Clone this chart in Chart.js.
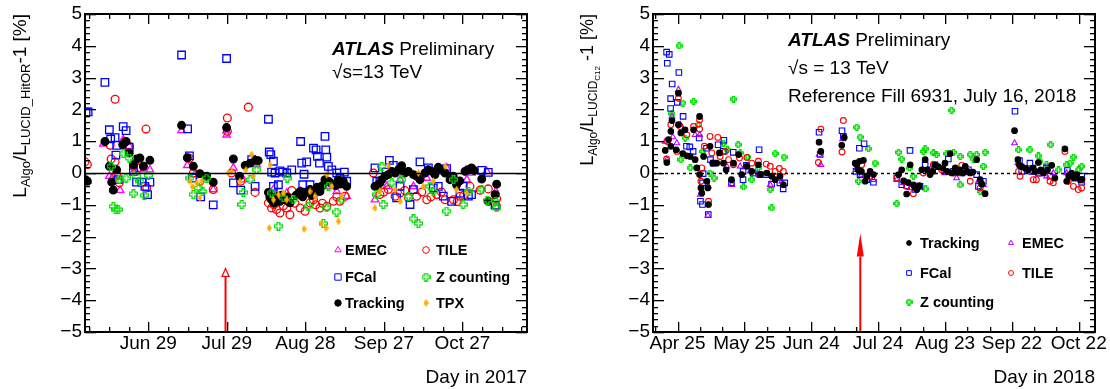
<!DOCTYPE html>
<html>
<head>
<meta charset="utf-8">
<script src="https://cdn.jsdelivr.net/npm/chart.js@4.4.0/dist/chart.umd.min.js"></script>
<style>
  body { margin: 0; background: #fff; width: 1110px; height: 389px; overflow: hidden; position: relative; }
  .panel { position: absolute; top: 0; width: 555px; height: 389px; }
</style>
</head>
<body>
<div class="panel" style="left:0"><canvas id="c2017" width="555" height="389"></canvas></div>
<div class="panel" style="left:555px"><canvas id="c2018" width="555" height="389"></canvas></div>
<script>
// ---- data: [day of year, L_Algo/L_LUCID - 1 in %] ----
const yTickVals = [-5, -4, -3, -2, -1, 0, 1, 2, 3, 4, 5];

const xTickDays2017 = [180, 210, 240, 270, 300];
const xLabels2017 = ['Jun 29', 'Jul 29', 'Aug 28', 'Sep 27', 'Oct 27'];
const xTickDays2018 = [115, 145, 175, 205, 235, 265, 295];
const xLabels2018 = ['Apr 25', 'May 25', 'Jun 24', 'Jul 24', 'Aug 23', 'Sep 22', 'Oct 22'];

// reference fill arrows: [day, arrow tip value]
const refArrow2017 = [209.5, -3.0];
const refArrow2018 = [197, -1.9];

const emec2017 = [[156.7,-0.26],[162.8,0.91],[165.1,-0.10],[166.6,-0.10],[169.2,-0.54],[170.4,1.05],[172.7,0.84],[174.9,0.10],[178.1,0.10],[180.6,0.10],
  [192.7,1.34],[194.9,0.24],[197.8,-0.05],[204.8,-0.52],[209.9,1.20],[209.9,1.33],[212.5,0.16],[216.3,-0.21],[221.4,0.26],
  [227.8,-0.52],[230.3,-0.73],[232.9,-0.63],[238.0,-0.58],[243.1,-0.63],[248.2,-0.42],[252.0,-0.58],[255.8,-0.73],
  [266.6,-0.84],[271.1,-0.42],[276.2,-0.21],[281.3,-0.42],[286.4,-0.16],[291.5,0.05],[294.0,0.16],[301.7,-0.21],[303.5,0],[309.3,0.05],[312.8,-0.58]];
const tile2017 = [[155.8,0.35],[156.7,0.27],[167.3,2.32],[165.4,0.87],[165.8,0.44],[167.3,0.35],[167.9,-0.05],[168.9,-0.31],[171.1,0.99],[172.7,0.84],
  [174.3,0.21],[176.2,0.16],[178.1,0.21],[179.4,-0.47],[179.1,1.38],[195.7,0.46],[197.2,0],[199.7,-0.26],[204.8,-0.52],[210.2,1.73],[210.2,1.31],
  [211.8,0],[215.3,-0.26],[218.2,2.07],[220.8,-0.61],[225.9,-0.94],[226.5,-0.78],[227.1,-1.10],[228.0,-1.00],[228.4,-0.84],[229.0,-1.15],[230.3,-1.26],
  [231.6,-1.03],[232.9,-1.10],[234.1,-1.31],[234.8,-0.55],[236.0,-0.95],[238.0,-1.10],[239.9,-1.20],[241.8,-0.94],[243.1,-0.84],[244.0,-1.00],
  [245.6,-1.10],[246.5,-0.95],[248.2,-1.05],[250.7,-0.89],[252.0,-0.75],[253.2,-0.89],[255.2,-0.73],
  [266.0,0],[267.3,-0.42],[268.5,-0.68],[270.0,-0.60],[271.7,-0.52],[274.3,-0.73],[276.2,-0.63],[278.0,-0.55],[279.4,-0.78],[282.5,-0.73],
  [284.5,-0.60],[286.4,-0.84],[288.0,-0.75],[290.2,-0.68],[292.0,-0.60],[293.4,-0.84],[296.6,-0.84],[298.0,-0.90],[299.1,-0.73],[300.5,-0.70],
  [302.9,-0.42],[306.8,-0.54],[309.9,-0.50],[313.1,-0.81],[313.1,-1.05]];
const fcal2017 = [[156.2,1.92],[157.0,1.92],[163.4,2.85],[165.1,1.36],[165.6,1.07],[167.3,1.11],[167.9,0.87],[167.6,0.56],[170.4,1.46],[171.5,1.33],
  [172.7,0.81],[168.5,-0.21],[174.3,0.05],[175.5,-0.29],[177.5,-0.29],[178.7,-0.42],[179.7,-0.68],[180.6,-0.29],[192.7,3.71],[195.0,1.39],
  [195.7,0.54],[196.9,-0.16],[200.0,-0.75],[204.8,-1.00],[209.9,3.60],[212.5,-0.31],[215.3,-0.54],[219.5,0.42],[220.8,-0.42],
  [225.9,1.69],[226.2,0.66],[226.8,0.58],[227.8,0.37],[227.1,0.03],[228.4,0],[230.3,0.07],[231.3,0.03],[232.9,0],[234.8,0.10],[227.8,-0.42],[229.7,-0.37],
  [238.2,0.99],[238.6,0.31],[239.5,-0.04],[239.0,-0.37],[240.5,0.35],[241.8,-0.37],[243.1,0.78],[244.1,0.73],[244.6,0.52],[245.4,0.31],
  [247.5,1.15],[247.8,0.73],[248.2,0.50],[248.8,0.21],[250.1,0.10],[252.0,0],[253.2,-0.16],[254.9,0.03],[255.8,-0.26],
  [266.6,0.16],[267.3,-0.26],[268.5,-0.26],[270.8,0.03],[272.1,0.40],[273.6,0.24],[274.9,-0.78],[276.2,-0.42],[280.0,-0.99],[281.3,-0.52],
  [283.8,0.35],[287.0,0.16],[288.9,-0.47],[290.8,-0.42],[292.7,-0.73],[294.0,0.14],[295.9,-0.89],[299.1,-0.63],[300.3,-0.42],[302.3,-0.73],
  [303.5,-0.68],[307.4,0.08],[309.9,0.02],[312.5,-1.01]];
const zcount2017 = [[165.8,0.21],[166.6,-1.05],[167.6,-1.15],[168.5,-1.15],[168.9,-0.21],[170.4,0.61],[171.5,-0.16],[172.7,0.47],[174.3,-0.65],
  [175.5,-0.10],[176.8,-0.26],[178.5,-0.70],[180.0,-0.07],[195.9,-0.16],[197.2,-0.68],[199.1,-0.47],[200.8,-0.58],[202.3,-0.16],
  [215.7,-0.99],[216.3,-0.61],[218.9,-0.21],[221.4,0.10],[227.1,-0.63],[229.7,-1.67],[231.6,-0.78],[233.1,-0.16],[235.4,-0.84],
  [241.1,-1.05],[246.9,-1.59],[248.8,-0.42],[248.2,-1.10],[252.0,-1.23],[253.9,-0.84],[267.3,-0.68],[269.2,0.21],[269.8,-0.99],
  [273.0,-0.31],[276.8,-0.21],[279.4,-0.73],[281.3,-1.44],[283.2,-1.59],[287.6,-0.42],[288.9,-0.58],[294.0,-1.20],[296.6,-0.21],
  [300.3,-0.99],[302.3,-0.58],[307.4,-0.52],[309.6,-0.86],[313.1,-1.10],[312.8,-0.89]];
const track2017 = [[156.0,-0.21],[156.7,-0.26],[163.4,0.99],[165.1,0.21],[166.0,-0.29],[166.6,-0.54],[167.9,0.10],[170.2,0.89],[171.5,0.99],
  [172.7,0.63],[174.3,0.26],[175.5,0.44],[176.8,0.47],[178.1,0.21],[180.6,0.40],[192.7,1.50],[194.9,0.48],[197.2,0.21],[199.7,-0.02],
  [202.3,-0.10],[204.8,-0.29],[209.9,1.43],[212.5,0.44],[214.8,-0.10],[217.0,0.24],[218.9,0.31],[220.8,0.40],[222.0,0.39],
  [225.9,-0.61],[226.5,-0.75],[227.1,-0.84],[228.0,-0.95],[229.0,-0.73],[230.3,-0.89],[231.0,-0.70],[232.2,-0.84],[233.0,-0.75],[234.1,-0.94],
  [236.5,-0.70],[238.0,-0.58],[239.0,-0.75],[239.9,-0.63],[241.8,-0.52],[242.5,-0.70],[243.7,-0.63],[244.5,-0.45],[245.6,-0.58],[246.5,-0.40],
  [247.5,-0.21],[248.8,-0.26],[249.5,-0.30],[250.7,-0.37],[251.5,-0.40],[252.6,-0.21],[253.5,-0.35],[254.5,-0.26],[255.8,-0.42],
  [266.6,-0.42],[268.0,-0.35],[269.2,-0.21],[270.5,-0.10],[271.7,-0.05],[273.0,0.05],[274.3,0],[275.5,0.10],[276.8,0.23],[278.0,0],
  [279.4,0.05],[281.3,-0.05],[282.5,-0.10],[283.8,-0.21],[285.7,0],[287.0,0.10],[288.3,0.05],[289.5,-0.05],[290.8,0.18],[292.0,0.10],
  [293.4,0],[295.3,-0.21],[296.5,-0.10],[297.8,-0.37],[299.0,-0.25],[301.0,0.05],[302.0,0.10],[303.5,0.16],[304.5,0.08],[307.4,-0.19],
  [309.9,-0.89],[313.1,-0.35],[312.5,-0.68]];
const tpx2017 = [[195.9,-0.26],[196.9,-0.44],[199.7,-0.78],[198.5,-0.31],[200.4,-0.26],[210.6,0],[211.8,0.05],[215.0,-0.26],[217.3,0.10],
  [219.5,0.58],[220.1,-0.10],[226.5,0.26],[226.2,-1.73],[227.8,-0.84],[229.7,-0.68],[231.6,-0.63],[232.9,-0.84],[239.5,-1.76],[241.8,-0.58],
  [243.7,-0.73],[246.2,-1.59],[247.9,-1.73],[248.2,-0.05],[250.1,-0.42],[252.6,-1.52],[253.9,-0.73],[266.6,-1.10],[268.5,-0.58],
  [271.7,0.23],[274.3,-0.52],[276.2,-0.89],[283.2,0],[285.1,-0.42],[288.9,-0.26],[293.4,0.21],[297.8,-0.52],[301.7,-0.63]];

const track2018 = [[109.5,0.71],[110.2,0.33],[111.0,1.05],[112.0,1.31],[112.0,0.84],[112.5,1.65],[114.4,0.73],[115.4,1.52],[115.4,2.51],
  [116.5,1.26],[117.4,0.61],[118.4,1.36],[119.2,0.54],[120.7,0.52],[122.2,1.36],[122.9,0.42],[123.7,0.16],[124.9,1.78],[124.9,-0.05],
  [125.5,-0.47],[125.9,-0.63],[126.7,0.52],[128.2,-0.26],[128.6,-0.47],[128.9,-0.99],[129.6,0.84],[130.8,0.31],[132.6,0.31],[133.8,0.63],
  [135.6,0.31],[136.8,0.10],[139.2,-0.21],[140.1,0.31],[142.4,0.58],[143.8,-0.05],[146.1,0.21],[148.3,0.05],[151.3,0.26],[152.1,-0.05],
  [155.1,0],[157.3,-0.10],[158.8,-0.21],[161.0,-0.10],[162.5,-0.37],[178.5,0.97],[179.3,0.68],[188.7,0.87],[189.8,1.12],
  [194.7,0.31],[195.4,0.26],[196.0,0.10],[196.6,0.37],[197.5,0.05],[198.4,0.40],[199.2,-0.26],[200.0,-0.10],[201.4,0.05],[202.9,-0.05],
  [214.2,-0.05],[215.6,0.10],[216.5,-0.25],[217.8,-0.66],[218.5,-0.30],[219.4,0.26],[220.8,-0.37],[221.5,-0.45],[222.4,-0.52],[223.5,-0.40],
  [224.6,0.10],[226.1,0.42],[227.0,0.10],[228.3,-0.05],[229.5,0.05],[230.5,0.26],[232.0,0.20],[234.0,0.15],[235.0,0.31],[236.0,0.05],
  [237.3,0.61],[238.0,0],[239.6,0.16],[240.5,0.02],[241.8,0.10],[243.0,0],[244.1,0.21],[245.0,0.05],[246.3,0],[247.5,0.03],[249.2,0.42],
  [250.8,-0.21],[251.5,-0.35],[253.0,-0.65],[266.2,1.33],[267.7,0.42],[268.4,0.24],[269.5,0.20],[271.0,0.15],[272.4,0.10],[274.6,0.16],
  [275.5,0.05],[276.9,0.33],[278.0,0.10],[279.2,0],[281.0,0.10],[282.9,0.24],[284.3,-0.16],[288.8,0.76],[289.6,-0.26],[290.5,-0.10],
  [291.8,0],[293.0,-0.15],[294.1,-0.05],[295.6,-0.21],[296.5,-0.20]];
const emec2018 = [[109.5,0.99],[110.2,0.42],[112.5,1.78],[112.9,1.13],[114.7,0.94],[115.4,2.62],[116.2,1.52],[122.9,1.20],[124.9,1.20],
  [125.2,-0.68],[128.6,-1.34],[128.9,-0.42],[137.1,0.21],[139.4,-0.37],[143.1,0.21],[147.6,0.05],[151.3,-0.05],[156.6,-0.37],[161.8,-0.26],
  [178.5,0.58],[179.3,0.26],[189.1,1.07],[195.1,0.10],[197.6,-0.05],[202.9,-0.21],[213.4,-0.21],[216.4,-0.31],[219.4,-0.47],[222.4,-0.42],
  [225.3,0.10],[229.8,0.16],[235.0,0],[240.2,-0.16],[245.5,0],[250.0,-0.26],[252.2,-0.37],[266.2,0.94],[267.7,0.31],[272.4,0.05],
  [276.9,-0.05],[280.6,-0.10],[283.6,0],[289.6,0],[292.6,-0.16],[296.3,-0.26]];
const fcal2018 = [[110.1,3.80],[111.3,3.73],[110.4,3.45],[115.6,3.16],[112.6,2.80],[111.9,2.34],[111.9,2.03],[114.9,2.22],[117.5,1.78],
  [119.0,0.84],[120.5,0.82],[122.0,0.68],[124.7,1.10],[128.0,0.78],[129.8,0.42],[131.0,0.31],[126.5,-0.02],[126.2,-0.31],[125.3,-0.89],
  [126.2,-0.99],[128.8,-1.31],[133.2,0.89],[135.8,1.03],[135.5,0.68],[140.0,0.65],[144.4,0.05],[145.9,0.24],[151.6,0.73],[148.9,0],
  [139.2,-0.31],[144.4,-0.21],[151.9,-0.05],[154.9,-0.05],[157.2,-0.35],[160.9,-0.31],[162.4,-0.50],[163.1,-0.31],
  [178.5,1.28],[179.0,0.58],[188.8,1.33],[189.4,1.15],[196.6,0.78],[198.7,0.92],[195.1,0.05],[196.9,-0.05],[199.9,-0.21],[202.9,-0.29],
  [219.3,0.71],[213.4,-0.16],[215.6,-0.37],[217.8,-0.40],[221.6,-0.52],[223.8,-0.42],[226.1,0.26],[228.3,0.10],[230.5,0.26],[236.5,0.44],
  [238.8,0.05],[242.5,0],[245.5,0.10],[249.2,-0.05],[250.0,-0.42],[252.2,-0.26],[266.4,1.94],[268.4,0.39],[269.4,0.05],[273.1,0.31],
  [273.9,0.05],[276.9,0],[280.6,0.16],[282.1,-0.10],[289.9,0.08],[290.8,-0.10],[293.3,-0.16],[296.3,-0.10],[296.3,-0.29]];
const tile2018 = [[110.5,0.99],[110.1,0.44],[112.0,1.52],[114.7,0.68],[115.4,2.35],[116.2,1.46],[119.2,1.20],[122.2,1.46],[124.9,1.67],
  [124.9,1.38],[125.5,-0.26],[125.9,0.16],[127.0,0.84],[128.9,-0.89],[129.6,1.15],[130.4,0.63],[133.1,1.12],[134.1,0.52],[136.4,0.68],
  [137.9,0.42],[140.1,0.26],[142.8,0.47],[146.1,0.49],[148.3,0.31],[151.3,0.37],[154.8,0.28],[156.6,0.21],[158.8,0.05],[160.7,0.14],
  [162.5,0.05],[178.2,0.33],[179.3,1.38],[188.8,0.66],[189.4,1.65],[197.6,0.26],[201.4,-0.10],[213.4,-0.16],[217.8,-0.42],[220.8,-0.65],
  [225.3,0],[229.8,0.26],[233.5,0.10],[238.8,0],[242.5,0.24],[246.3,-0.26],[250.8,-0.47],[268.0,0.05],[268.7,-0.10],[274.6,-0.21],
  [276.0,-0.21],[282.1,-0.26],[283.6,-0.31],[288.8,0.68],[290.3,-0.26],[292.6,-0.42],[294.8,-0.52],[296.3,-0.47]];
const zcount2018 = [[115.7,4.00],[112.5,1.86],[117.4,2.20],[122.2,2.25],[140.1,2.32],[116.5,0.42],[118.4,1.10],[120.7,0.16],[124.4,1.52],
  [126.4,0.68],[129.6,0],[131.4,-0.16],[135.6,0.94],[137.4,0.73],[142.2,0.89],[143.1,0.63],[144.6,-0.44],[146.4,0.50],[148.3,-0.21],
  [151.3,0.16],[156.6,-0.52],[157.3,-1.10],[158.8,0.61],[162.8,0.50],[195.4,1.44],[196.9,1.13],[200.7,0.76],[203.6,0.31],[196.2,-0.26],
  [213.4,-0.96],[214.2,0.65],[215.6,0.44],[219.1,0.16],[220.8,-0.10],[225.3,0.68],[226.1,0.76],[226.3,-0.50],[229.8,0.63],[231.2,0.58],
  [235.8,0.61],[238.0,1.97],[238.8,0.65],[241.8,-0.37],[241.8,0.52],[246.3,0.58],[247.7,0.44],[249.2,0.58],[253.0,0.65],[250.8,-0.58],
  [252.2,0.21],[268.0,0.73],[273.1,0.73],[276.9,0.54],[277.6,0.37],[280.6,0.26],[282.4,0.89],[285.9,0.10],[289.6,0.26],[291.1,0.31],
  [292.6,0.50],[294.8,0.10],[296.3,0.21]];

// ---- styling ----
const FONT = '"Liberation Sans", Arial, Helvetica, sans-serif';
Chart.defaults.font.family = FONT;
Chart.defaults.color = '#000';

function openCross(size, color) {
  const c = document.createElement('canvas');
  c.width = c.height = size;
  const g = c.getContext('2d');
  const s = size - 1, a = s * 0.33, b = s * 0.67, o = 0.5;
  const pts = [[a,0],[b,0],[b,a],[s,a],[s,b],[b,b],[b,s],[a,s],[a,b],[0,b],[0,a],[a,a]];
  g.beginPath();
  pts.forEach(([x, y], i) => i ? g.lineTo(x + o, y + o) : g.moveTo(x + o, y + o));
  g.closePath();
  g.strokeStyle = color;
  g.lineWidth = 1.3;
  g.stroke();
  return c;
}

function smallDiamond(w, h, color) {
  const c = document.createElement('canvas');
  c.width = w; c.height = h;
  const g = c.getContext('2d');
  g.beginPath();
  g.moveTo(w / 2, 0); g.lineTo(w, h / 2); g.lineTo(w / 2, h); g.lineTo(0, h / 2);
  g.closePath();
  g.fillStyle = color;
  g.fill();
  return c;
}

const GREEN = '#00dd00';
const series2017 = [
  { label: 'EMEC', data: emec2017, color: '#ff00ff', style: 'triangle', r: 4.3, fill: false, order: 5 },
  { label: 'TILE', data: tile2017, color: '#ff0000', style: 'circle', r: 3.9, fill: false, order: 4 },
  { label: 'FCal', data: fcal2017, color: '#0000ff', style: 'rect', r: 5.3, fill: false, order: 3 },
  { label: 'Z counting', data: zcount2017, color: GREEN, style: openCross(9, GREEN), r: 4, fill: false, order: 1 },
  { label: 'Tracking', data: track2017, color: '#000000', style: 'circle', r: 3.8, fill: true, order: 2 },
  { label: 'TPX', data: tpx2017, color: '#ffaa00', style: smallDiamond(5, 8, '#ffaa00'), r: 3, fill: true, order: 0 }
];
const series2018 = [
  { label: 'Tracking', data: track2018, color: '#000000', style: 'circle', r: 2.8, fill: true, order: 0 },
  { label: 'EMEC', data: emec2018, color: '#b000ff', style: 'triangle', r: 3.3, fill: false, order: 2 },
  { label: 'FCal', data: fcal2018, color: '#0000ff', style: 'rect', r: 3.9, fill: false, order: 3 },
  { label: 'TILE', data: tile2018, color: '#ff0000', style: 'circle', r: 2.9, fill: false, order: 1 },
  { label: 'Z counting', data: zcount2018, color: GREEN, style: openCross(7, GREEN), r: 3, fill: false, order: 4 }
];

function drawVerticalRich(ctx, parts, xBase, yEnd) {
  ctx.save();
  let total = 0;
  parts.forEach(p => { ctx.font = p[1] + 'px ' + FONT; p.w = ctx.measureText(p[0]).width; total += p.w; });
  ctx.translate(xBase, yEnd + total);
  ctx.rotate(-Math.PI / 2);
  ctx.fillStyle = '#000';
  ctx.textBaseline = 'alphabetic';
  let x = 0;
  parts.forEach(p => { ctx.font = p[1] + 'px ' + FONT; ctx.fillText(p[0], x, p[2]); x += p.w; });
  ctx.restore();
}

// ROOT style frame (2px) with inward ticks on all four sides
function drawFrame(ctx, a, x, y, p) {
  ctx.fillStyle = '#000000';
  const L = Math.round(a.left), R = Math.round(a.right), T = Math.round(a.top), B = Math.round(a.bottom);
  ctx.fillRect(L - 1, T - 1, R - L + 2, 2);
  ctx.fillRect(L - 1, B - 1, R - L + 2, 2);
  ctx.fillRect(L - 1, T - 1, 2, B - T + 2);
  ctx.fillRect(R - 1, T - 1, 2, B - T + 2);
  for (let d = p.xTickStart; d <= x.max; d += p.xMinor) {
    const px = Math.round(x.getPixelForValue(d));
    const len = p.xTicks.includes(d) ? 10 : 5;
    ctx.fillRect(px, B - len, 1.3, len);
    ctx.fillRect(px, T, 1.3, len);
  }
  for (let i = -25; i <= 25; i++) {
    const py = Math.round(y.getPixelForValue(i / 5));
    const len = i % 5 === 0 ? 11 : 5;
    ctx.fillRect(L, py, len, 1.3);
    ctx.fillRect(R - len, py, len, 1.3);
  }
}

function atlasPlugin(p) {
  return {
    id: 'atlas' + p.year,
    afterDatasetsDraw(chart) {
      const { ctx, chartArea: a, scales: { x, y } } = chart;
      ctx.save();
      // zero line
      const y0 = Math.round(y.getPixelForValue(0)) + 0.5;
      ctx.strokeStyle = '#000';
      ctx.lineWidth = p.dashedZero ? 1.6 : 1.3;
      ctx.setLineDash(p.dashedZero ? [3, 3] : []);
      ctx.beginPath(); ctx.moveTo(a.left, y0); ctx.lineTo(a.right, y0); ctx.stroke();
      ctx.setLineDash([]);
      // reference fill arrow
      const ax = x.getPixelForValue(p.arrow[0]);
      const tip = y.getPixelForValue(p.arrow[1]);
      ctx.strokeStyle = '#ff0000'; ctx.fillStyle = '#ff0000'; ctx.lineWidth = 2;
      ctx.beginPath(); ctx.moveTo(ax, a.bottom); ctx.lineTo(ax, tip + p.headLen); ctx.stroke();
      ctx.lineWidth = 1.2;
      ctx.beginPath();
      ctx.moveTo(ax, tip); ctx.lineTo(ax - 3.5, tip + p.headLen); ctx.lineTo(ax + 3.5, tip + p.headLen); ctx.closePath();
      if (p.filledHead) ctx.fill(); else ctx.stroke();
      ctx.restore();
    },
    afterDraw(chart) {
      const { ctx, chartArea: a, scales: { x, y } } = chart;
      ctx.save();
      drawFrame(ctx, a, x, y, p);
      // axis titles
      drawVerticalRich(ctx, p.yTitle, p.yTitleX, a.top);
      ctx.fillStyle = '#000';
      ctx.font = '19px ' + FONT;
      ctx.textAlign = 'right';
      ctx.fillText(p.xTitle, a.right, 383);

      // ATLAS label
      ctx.textAlign = 'left';
      ctx.font = 'italic bold 19px ' + FONT;
      ctx.fillText('ATLAS', p.textX, p.textY[0]);
      const w = ctx.measureText('ATLAS ').width;
      ctx.font = '19px ' + FONT;
      ctx.fillText('Preliminary', p.textX + w, p.textY[0]);
      p.extraText.forEach((t, i) => ctx.fillText(t, p.textX, p.textY[i + 1]));

      // legend
      ctx.font = 'bold 14.5px ' + FONT;
      p.legend.forEach(([idx, mx, my, tx]) => {
        const s = p.series[idx];
        ctx.strokeStyle = s.color;
        ctx.fillStyle = s.fill ? s.color : 'rgba(0,0,0,0)';
        ctx.lineWidth = 1;
        Chart.helpers.drawPoint(ctx, { pointStyle: s.style, radius: s.r * 0.85, rotation: 0, borderWidth: 1 }, mx, my);
        ctx.fillStyle = '#000';
        ctx.fillText(s.label, tx, my + 5);
      });
      ctx.restore();
    }
  };
}

function makeChart(id, p) {
  return new Chart(document.getElementById(id), {
    type: 'scatter',
    data: {
      datasets: p.series.map(s => ({
        label: s.label,
        data: s.data.map(([d, v]) => ({ x: d, y: v })),
        pointStyle: s.style,
        pointRadius: s.r,
        pointHoverRadius: s.r,
        pointBorderWidth: p.markerLine,
        pointBorderColor: s.color,
        pointBackgroundColor: s.fill ? s.color : 'rgba(0,0,0,0)',
        order: s.order
      }))
    },
    options: {
      responsive: false,
      animation: false,
      devicePixelRatio: 1,
      events: [],
      layout: { padding: { left: 0, right: 555 - p.right, top: 14, bottom: 0 }, autoPadding: false },
      plugins: { legend: { display: false }, tooltip: { enabled: false } },
      scales: {
        x: {
          type: 'linear', min: p.xMin, max: p.xMax,
          afterBuildTicks: s => { s.ticks = p.xTicks.map(v => ({ value: v })); },
          afterFit: s => { s.height = 389 - 332; s.paddingLeft = 0; s.paddingRight = 0; },
          grid: { display: false, drawTicks: false }, border: { display: false },
          ticks: {
            autoSkip: false, maxRotation: 0, padding: 0, color: '#000',
            font: { size: 19, lineHeight: 1.2 },
            callback: v => p.xLabels[p.xTicks.indexOf(v)]
          }
        },
        y: {
          min: -5, max: 5,
          afterBuildTicks: s => { s.ticks = yTickVals.map(v => ({ value: v })); },
          afterFit: s => { s.width = p.left; s.paddingTop = 0; s.paddingBottom = 0; },
          grid: { display: false, drawTicks: false }, border: { display: false },
          ticks: {
            padding: 3, color: '#000', font: { size: 19 },
            callback: v => v < 0 ? '\u2212' + Math.abs(v) : String(v)
          }
        }
      }
    },
    plugins: [atlasPlugin(p)]
  });
}

makeChart('c2017', {
  year: 2017, series: series2017, left: 85, right: 527, xMin: 155.8, xMax: 324.7, markerLine: 1.3,
  xTicks: xTickDays2017, xLabels: xLabels2017, xTickStart: 157.5, xMinor: 7.5,
  arrow: refArrow2017, headLen: 8, filledHead: false, dashedZero: false,
  yTitle: [['L', 19, 0], ['Algo', 13, 4], ['/L', 19, 0], ['LUCID_HitOR', 13, 4], ['-1 [%]', 19, 0]], yTitleX: 26,
  xTitle: 'Day in 2017',
  textX: 332, textY: [55, 78], extraText: ['\u221As=13 TeV'],
  legend: [[0, 338, 250, 345], [1, 426, 250, 436], [2, 338, 277, 345], [3, 426, 277, 436], [4, 338, 303, 345], [5, 426, 303, 436]]
});

makeChart('c2018', {
  year: 2018, series: series2018, left: 98, right: 540, xMin: 104, xMax: 302.3, markerLine: 1.1,
  xTicks: xTickDays2018, xLabels: xLabels2018, xTickStart: 105, xMinor: 10,
  arrow: refArrow2018, headLen: 23, filledHead: true, dashedZero: true,
  yTitle: [['L', 18, 0], ['Algo', 12, 4], ['/L', 18, 0], ['LUCID', 12, 4], ['C12', 8, 7], [' -1 [%]', 18, 0]], yTitleX: 38,
  xTitle: 'Day in 2018',
  textX: 233, textY: [46, 74, 102], extraText: ['\u221As = 13 TeV', 'Reference Fill 6931, July 16, 2018'],
  legend: [[0, 354, 243, 365], [1, 456, 243, 467], [2, 354, 273, 365], [3, 456, 273, 467], [4, 354, 302, 365]]
});
</script>
</body>
</html>
